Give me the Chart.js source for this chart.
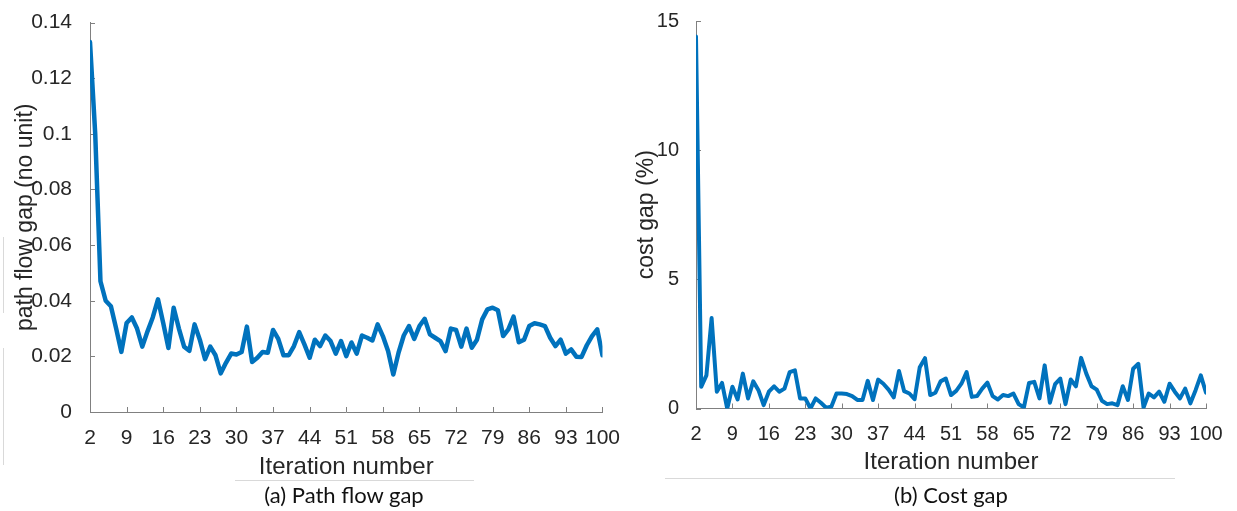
<!DOCTYPE html>
<html lang="en">
<head>
  <meta charset="UTF-8">
  <title>Path flow gap and cost gap</title>
  <script src="https://cdn.jsdelivr.net/npm/chart.js"></script>
  <style>
    body {
      margin: 0;
      background: #fff;
      width: 1237px;
      height: 511px;
      position: relative;
      overflow: hidden;
    }
    canvas { position: absolute; top: 0; }
    #flowChart { left: 0; }
    #costChart { left: 620px; }
    .caption {
      position: absolute;
      font-family: Lato, sans-serif;
      font-size: 22px;
      color: #111;
      transform: translateX(-50%);
      white-space: nowrap;
    }
    .rule { position: absolute; background: #d9d9d9; }
  </style>
</head>
<body>
  <canvas id="flowChart" width="626" height="485"></canvas>
  <canvas id="costChart" width="617" height="485"></canvas>

  <div class="rule" style="left:235px; top:480px; width:239px; height:1px;"></div>
  <div class="rule" style="left:665px; top:478px; width:510px; height:1px;"></div>
  <div class="rule" style="left:3px; top:237px; width:1px; height:76px;"></div>
  <div class="rule" style="left:3px; top:348px; width:1px; height:117px;"></div>

  <div class="caption" style="left:344px; top:481px;">(a) Path flow gap</div>
  <div class="caption" style="left:951px; top:481px;">(b) Cost gap</div>

  <script>
    // iterations 2..100
    const iterations = Array.from({ length: 99 }, (_, i) => i + 2);
    const xTicks = [2, 9, 16, 23, 30, 37, 44, 51, 58, 65, 72, 79, 86, 93, 100];

    const flowTicks = [0, 0.02, 0.04, 0.06, 0.08, 0.1, 0.12, 0.14];
    const flowTickLabels = ['0', '0.02', '0.04', '0.06', '0.08', '0.1', '0.12', '0.14'];
    const costTicks = [0, 5, 10, 15];
    const costTickLabels = ['0', '5', '10', '15'];

    const pathFlowGap = [
      0.133, 0.100, 0.047, 0.040, 0.038, 0.030, 0.0216, 0.032, 0.034, 0.030,
      0.0235, 0.029, 0.034, 0.0405, 0.032, 0.023, 0.0375, 0.030, 0.0235, 0.022,
      0.0315, 0.026, 0.019, 0.0235, 0.0204, 0.0139, 0.0177, 0.021, 0.0207, 0.0216,
      0.0307, 0.018, 0.0195, 0.0216, 0.0213, 0.0295, 0.0263, 0.0204, 0.0204, 0.0237,
      0.0287, 0.0243, 0.0195, 0.026, 0.0237, 0.0275, 0.0255, 0.021, 0.0255, 0.0201,
      0.025, 0.021, 0.0275, 0.0267, 0.0257, 0.0315, 0.0273, 0.0219, 0.0135, 0.0213,
      0.0275, 0.0309, 0.0263, 0.0309, 0.0335, 0.0279, 0.0267, 0.0255, 0.0219, 0.030,
      0.0295, 0.0235, 0.030, 0.0231, 0.026, 0.0333, 0.0369, 0.0375, 0.0366, 0.0273,
      0.0297, 0.0343, 0.0251, 0.026, 0.0309, 0.0319, 0.0315, 0.0309, 0.0267, 0.0237,
      0.026, 0.021, 0.0225, 0.0199, 0.0198, 0.024, 0.0273, 0.0297, 0.0204
    ];

    const costGap = [
      14.4, 0.84, 1.28, 3.5, 0.65, 0.99, 0.0, 0.84, 0.35, 1.35,
      0.39, 1.05, 0.71, 0.13, 0.65, 0.86, 0.65, 0.77, 1.41, 1.48,
      0.39, 0.39, 0.0, 0.39, 0.22, 0.03, 0.07, 0.58, 0.58, 0.56,
      0.48, 0.33, 0.33, 1.07, 0.33, 1.12, 0.96, 0.73, 0.43, 1.45,
      0.67, 0.58, 0.36, 1.60, 1.95, 0.52, 0.61, 1.05, 1.16, 0.52,
      0.68, 0.96, 1.41, 0.45, 0.48, 0.77, 1.00, 0.48, 0.35, 0.52,
      0.48, 0.58, 0.17, 0.04, 0.99, 1.03, 0.39, 1.67, 0.22, 0.94,
      1.16, 0.17, 1.12, 0.86, 1.96, 1.35, 0.86, 0.73, 0.30, 0.17,
      0.20, 0.13, 0.86, 0.33, 1.54, 1.73, 0.04, 0.58, 0.43, 0.65,
      0.26, 0.96, 0.65, 0.39, 0.77, 0.20, 0.71, 1.28, 0.61
    ];

    const AXIS_GREY = '#808080';
    const TEXT = '#262626';
    const LINE_BLUE = '#0072BD';

    // MATLAB style tick marks that point into the plot
    const inwardTicks = {
      id: 'inwardTicks',
      beforeDatasetsDraw(chart) {
        const { ctx, scales: { x, y } } = chart;
        ctx.save();
        ctx.strokeStyle = AXIS_GREY;
        ctx.lineWidth = 1;
        ctx.beginPath();
        x.ticks.forEach(t => {
          const px = Math.round(x.getPixelForValue(t.value)) + 0.5;
          ctx.moveTo(px, y.bottom);
          ctx.lineTo(px, y.bottom - 5);
        });
        y.ticks.forEach(t => {
          const py = Math.round(y.getPixelForValue(t.value)) + 0.5;
          ctx.moveTo(x.left, py);
          ctx.lineTo(x.left + 5, py);
        });
        ctx.stroke();
        ctx.restore();
      }
    };

    function makeChart(id, cfg) {
      const points = iterations.map((it, i) => ({ x: it, y: cfg.values[i] }));
      return new Chart(document.getElementById(id), {
        type: 'line',
        data: {
          datasets: [{
            data: points,
            borderColor: LINE_BLUE,
            borderWidth: cfg.lineWidth,
            borderJoinStyle: 'round',
            borderCapStyle: 'round',
            pointRadius: 0,
            tension: 0,
            fill: false
          }]
        },
        options: {
          responsive: false,
          animation: false,
          layout: { padding: cfg.padding },
          plugins: {
            legend: { display: false },
            tooltip: { enabled: false }
          },
          scales: {
            x: {
              type: 'linear',
              min: 2,
              max: 100,
              afterBuildTicks: s => { s.ticks = xTicks.map(v => ({ value: v })); },
              afterFit: s => { s.height = cfg.xHeight; },
              grid: { display: false },
              border: { display: true, color: AXIS_GREY, width: 1 },
              ticks: {
                color: TEXT,
                padding: cfg.xTickPad,
                maxRotation: 0,
                autoSkip: false,
                font: { family: 'Liberation Sans', size: cfg.tickSize }
              },
              title: {
                display: true,
                text: 'Iteration number',
                color: TEXT,
                padding: { top: 0, bottom: cfg.xTitlePad },
                font: { family: 'Liberation Sans', size: 24 }
              }
            },
            y: {
              type: 'linear',
              min: cfg.yTicks[0],
              max: cfg.yTicks[cfg.yTicks.length - 1],
              afterBuildTicks: s => { s.ticks = cfg.yTicks.map(v => ({ value: v })); },
              afterFit: s => { s.width = cfg.yWidth; },
              grid: { display: false },
              border: { display: true, color: AXIS_GREY, width: 1 },
              ticks: {
                color: TEXT,
                padding: cfg.yTickPad,
                autoSkip: false,
                callback: (v, i) => cfg.yLabels[i],
                font: { family: 'Liberation Sans', size: cfg.tickSize }
              },
              title: {
                display: true,
                text: cfg.yTitle,
                color: TEXT,
                padding: { top: cfg.yTitlePad, bottom: 0 },
                font: { family: 'Liberation Sans', size: 23 }
              }
            }
          }
        },
        plugins: [inwardTicks]
      });
    }

    makeChart('flowChart', {
      values: pathFlowGap,
      yTicks: flowTicks,
      yLabels: flowTickLabels,
      yTitle: 'path flow gap (no unit)',
      padding: { left: 0, top: 20, right: 0, bottom: 0 },
      yWidth: 90,
      xHeight: 73,
      tickSize: 21,
      xTickPad: 6,
      yTickPad: 10,
      xTitlePad: 3,
      yTitlePad: 12,
      lineWidth: 4.5
    });

    makeChart('costChart', {
      values: costGap,
      yTicks: costTicks,
      yLabels: costTickLabels,
      yTitle: 'cost gap (%)',
      padding: { left: 0, top: 17, right: 31, bottom: 0 },
      yWidth: 76,
      xHeight: 76.5,
      tickSize: 20,
      xTickPad: 6,
      yTickPad: 9,
      xTitlePad: 8,
      yTitlePad: 13,
      lineWidth: 4
    });
  </script>
</body>
</html>
